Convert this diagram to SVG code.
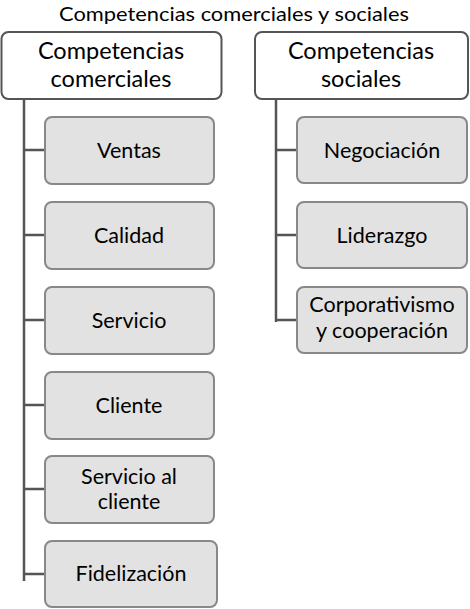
<svg xmlns="http://www.w3.org/2000/svg" width="470" height="609" viewBox="0 0 470 609">
<style>
text{font-family:Lato,"Open Sans","Liberation Sans",sans-serif;fill:#000;text-anchor:middle}
.title{font-size:20px}
.root rect{fill:#fff;stroke:#555;stroke-width:2}
.root text{font-size:23.5px}
.child rect{fill:#e2e2e2;stroke:#888;stroke-width:2}
.child text{font-size:21.5px}
.conn{stroke:#555;stroke-width:2.5;fill:none}
</style>
<rect width="470" height="609" fill="#fff"/>
<text class="title" x="234" y="21" textLength="350" lengthAdjust="spacingAndGlyphs">Competencias comerciales y sociales</text>
<g id="connectors" class="conn">
<path d="M24 99V581M24 150H45M24 235H45M24 320H45M24 405H45M24 489H45M24 574H45"/>
<path d="M276 99V322M276 150H297M276 235H297M276 320H297"/>
</g>
<g id="root-comerciales" class="root"><rect x="1.5" y="32" width="220" height="67" rx="7"/><text x="111" y="59">Competencias</text><text x="111" y="87">comerciales</text></g>
<g id="root-sociales" class="root"><rect x="255" y="32" width="213" height="67" rx="7"/><text x="361" y="59">Competencias</text><text x="361" y="87">sociales</text></g>
<g id="ventas" class="child"><rect x="45" y="117" width="169" height="67" rx="7"/><text x="129" y="158">Ventas</text></g>
<g id="calidad" class="child"><rect x="45" y="202" width="169" height="67" rx="7"/><text x="129" y="243">Calidad</text></g>
<g id="servicio" class="child"><rect x="45" y="287" width="169" height="67" rx="7"/><text x="129" y="328">Servicio</text></g>
<g id="cliente" class="child"><rect x="45" y="372" width="169" height="67" rx="7"/><text x="129" y="413">Cliente</text></g>
<g id="servicio-cliente" class="child"><rect x="45" y="456" width="169" height="67" rx="7"/><text x="129" y="484">Servicio al</text><text x="129" y="509">cliente</text></g>
<g id="fidelizacion" class="child"><rect x="45" y="541" width="172" height="66" rx="7"/><text x="131" y="581">Fidelización</text></g>
<g id="negociacion" class="child"><rect x="297" y="117" width="170" height="66" rx="7"/><text x="382" y="158">Negociación</text></g>
<g id="liderazgo" class="child"><rect x="297" y="202" width="170" height="66" rx="7"/><text x="382" y="243">Liderazgo</text></g>
<g id="corporativismo" class="child"><rect x="297" y="287" width="170" height="66" rx="7"/><text x="382" y="312">Corporativismo</text><text x="382" y="338">y cooperación</text></g>
</svg>
